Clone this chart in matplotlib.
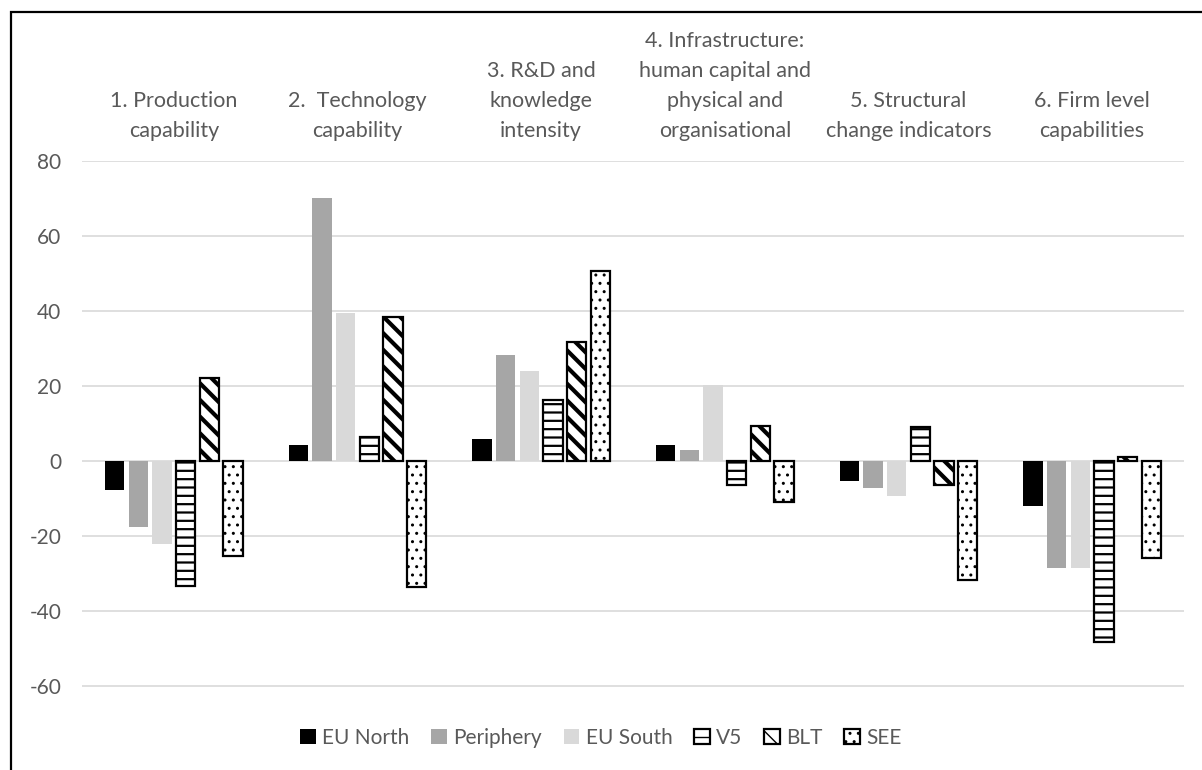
import matplotlib
matplotlib.use("Agg")
import matplotlib.pyplot as plt
from matplotlib.patches import Patch, Rectangle
import numpy as np


categories = [
    "1. Production\ncapability",
    "2.  Technology\ncapability",
    "3. R&D and\nknowledge\nintensity",
    "4. Infrastructure:\nhuman capital and\nphysical and\norganisational",
    "5. Structural\nchange indicators",
    "6. Firm level\ncapabilities",
]
series_names = ["EU North", "Periphery", "EU South", "V5", "BLT", "SEE"]

eu_north = [-7.7, 4.2, 5.9, 4.2, -5.3, -11.9]
periphery = [-17.5, 70.2, 28.3, 2.9, -7.1, -28.5]
eu_south = [-22.1, 39.6, 24.1, 20.2, -9.3, -28.5]
v5 = [-33.3, 6.5, 16.3, -6.4, 9.2, -48.3]
blt = [22.2, 38.5, 31.8, 9.4, -6.5, 1.2]
see = [-25.2, -33.7, 50.7, -10.8, -31.7, -25.9]

y_ticks = [-60, -40, -20, 0, 20, 40, 60, 80]

series = [eu_north, periphery, eu_south, v5, blt, see]
fills = ["#000000", "#a6a6a6", "#d9d9d9", "white", "white", "white"]
hatches = [None, None, None, "--", "\\\\", ".."]
hatch_lw = [1, 1, 1, 1.6, 3.0, 1.0]

text_color = "#595959"
plt.rcParams["font.family"] = ["Lato", "DejaVu Sans"]
plt.rcParams["axes.unicode_minus"] = False

fig = plt.figure(figsize=(12.02, 7.7), dpi=100)
ax = fig.add_axes([82 / 1202, 1 - 761 / 770, (1184 - 82) / 1202, 600 / 770])

x = np.arange(len(categories))
slot = 0.1287
width = 0.105
handles = []
for j, vals in enumerate(series):
    pos = x + (j - 2.5) * slot
    with plt.rc_context({"hatch.linewidth": hatch_lw[j], "hatch.color": "black"}):
        if hatches[j] is None:
            ax.bar(pos, vals, width, color=fills[j], zorder=3)
            h = Patch(facecolor=fills[j], edgecolor="none")
        else:
            ax.bar(pos, vals, width, facecolor="white", edgecolor="black",
                   linewidth=1.6, hatch=hatches[j], zorder=3)
            h = Patch(facecolor="white", edgecolor="black", linewidth=1.6,
                      hatch=hatches[j])
    handles.append(h)

ax.set_xlim(-0.5, len(categories) - 0.5)
ax.set_ylim(-80, 80)
ax.set_yticks(y_ticks)
ax.set_xticks([])
ax.yaxis.grid(True, color="#d9d9d9", linewidth=1.2, zorder=0)
ax.set_axisbelow(True)
for s in ax.spines.values():
    s.set_visible(False)
ax.tick_params(axis="y", length=0, labelsize=15, labelcolor=text_color, pad=15)

for i, lab in enumerate(categories):
    ax.text(i, 80 + 20 / 3.75, lab, ha="center", va="bottom", fontsize=15.5,
            color=text_color, linespacing=1.62, clip_on=False)

fig.legend(handles, series_names, loc="center", bbox_to_anchor=(0.5, 1 - 738 / 770),
           ncol=6, frameon=False, fontsize=15, labelcolor=text_color,
           handlelength=0.75, handleheight=0.75, handletextpad=0.3, columnspacing=1.05)

fig.add_artist(Rectangle((11 / 1202, -0.1), 1.2, 1.1 - 12 / 770,
                         transform=fig.transFigure, fill=False,
                         edgecolor="black", linewidth=1.6))

fig.savefig("out.png", dpi=100)
